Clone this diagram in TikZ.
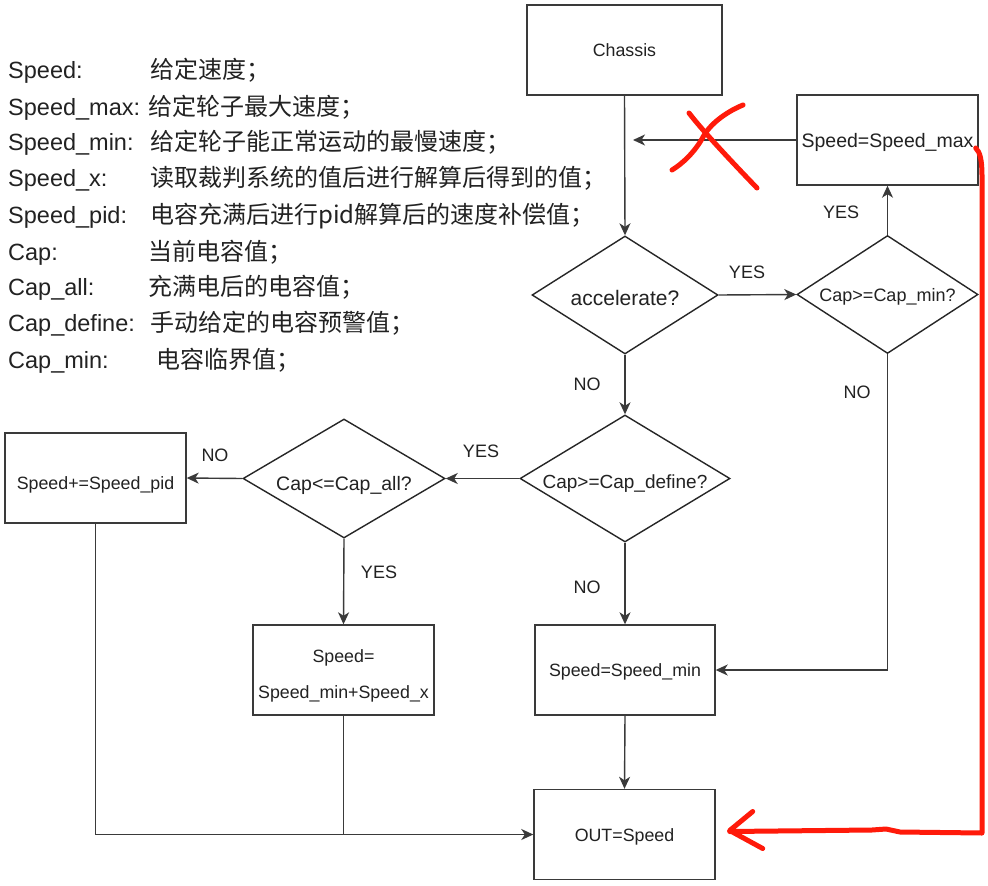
\documentclass[tikz,border=0pt]{standalone}
\usepackage{fontspec}
\setmainfont{Liberation Sans}
\newfontfamily\cjk{Noto Sans CJK SC}
\usetikzlibrary{shapes.geometric,arrows.meta,backgrounds,calc}

\definecolor{ink}{HTML}{222222}
\definecolor{linegray}{HTML}{3A3A3A}
\definecolor{legbg}{HTML}{F3F4F6}
\definecolor{pen}{HTML}{FF1A0A}

% text of a block, centred horizontally and lowered by #1 without taking up room
\newcommand{\placed}[2]{\makebox[0pt]{\raisebox{#1}[0pt][0pt]{#2}}}

\begin{document}
\begin{tikzpicture}[x=1pt,y=-1pt,
  box/.style={draw=linegray,line width=1.4pt,minimum width=181pt,minimum height=90pt,
    inner sep=0pt,text=ink,font=\fontsize{17.8}{20}\selectfont},
  decision/.style={diamond,draw=black!85,line width=1.4pt,inner sep=0pt,text=ink,
    font=\fontsize{18}{20}\selectfont},
  flow/.style={draw=linegray,line width=1.4pt,-{Stealth[length=12pt,width=11pt,inset=3.5pt]}},
  plain/.style={draw=linegray,line width=1.4pt},
  lbl/.style={text=ink,font=\fontsize{18}{20}\selectfont,inner sep=0pt},
  key/.style={anchor=base west,inner sep=0pt,text=ink,font=\fontsize{23.5}{26}\selectfont},
  meaning/.style={anchor=base west,inner sep=0pt,text=ink,font=\fontsize{24}{26}\selectfont\cjk},
  redpen/.style={draw=pen,line width=5pt,line cap=round,line join=round}
]
\useasboundingbox[fill=white] (0,0) rectangle (988,886);

% ---- legend of variables ----
\node[key] (k1) at (8,78.5) {Speed:};
\node[meaning] (m1) at (150,78.5) {给定速度；};
\node[key] (k2) at (8,115.5) {Speed\_max:};
\node[meaning] (m2) at (148,115.5) {给定轮子最大速度；};
\node[key] (k3) at (8,150.5) {Speed\_min:};
\node[meaning] (m3) at (150,150.5) {给定轮子能正常运动的最慢速度；};
\node[key] (k4) at (8,186.5) {Speed\_x:};
\node[meaning] (m4) at (150,186.5) {读取裁判系统的值后进行解算后得到的值；};
\node[key] (k5) at (8,223.5) {Speed\_pid:};
\node[meaning] (m5) at (150,223.5) {电容充满后进行pid解算后的速度补偿值；};
\node[key] (k6) at (8,260.5) {Cap:};
\node[meaning] (m6) at (148,260.5) {当前电容值；};
\node[key] (k7) at (8,295.5) {Cap\_all:};
\node[meaning] (m7) at (148,295.5) {充满电后的电容值；};
\node[key] (k8) at (8,331.5) {Cap\_define:};
\node[meaning] (m8) at (150,331.5) {手动给定的电容预警值；};
\node[key] (k9) at (8,368.5) {Cap\_min:};
\node[meaning] (m9) at (156,368.5) {电容临界值；};
\begin{pgfonlayer}{background}
  \foreach \i in {1,...,9}{
    \fill[legbg] ($(k\i.base west)+(0,-21.5)$) rectangle ($(m\i.base east)+(0,5.5)$);
  }
\end{pgfonlayer}

% ---- flowchart blocks ----
\node[box,minimum width=195pt] (chassis) at (624.5,50) {\placed{-6.4pt}{Chassis}};
\node[decision,minimum width=186pt,minimum height=118pt,font=\fontsize{21}{24}\selectfont]
  (acc) at (625,295) {\placed{-10.5pt}{accelerate?}};
\node[decision,minimum width=181pt,minimum height=118pt]
  (capmin) at (887.5,294.5) {\placed{-6.9pt}{Cap>=Cap\_min?}};
\node[box,font=\fontsize{19.5}{22}\selectfont] (smax) at (887.5,140) {\placed{-7pt}{Speed=Speed\_max}};
\node[decision,minimum width=210pt,minimum height=127pt,font=\fontsize{19}{22}\selectfont]
  (capdef) at (625,478.5) {\placed{-10.3pt}{Cap>=Cap\_define?}};
\node[decision,minimum width=202pt,minimum height=119pt,font=\fontsize{19.5}{22}\selectfont]
  (capall) at (344,478.5) {\placed{-11.5pt}{Cap<=Cap\_all?}};
\node[box] (pid) at (95.5,478) {\placed{-11.4pt}{Speed+=Speed\_pid}};
\node[box] (sx) at (343.5,670)
  {\placed{7.6pt}{Speed=}\placed{-28.4pt}{Speed\_min+Speed\_x}};
\node[box,minimum width=180pt] (smin) at (625,670) {\placed{-6.4pt}{Speed=Speed\_min}};
\node[box] (out) at (624.5,834.5) {\placed{-6.9pt}{OUT=Speed}};
\coordinate (join) at (633,140);

% ---- connectors ----
\draw[flow] (chassis.south) -- (acc.north);
\draw[flow] (acc.east) -- (capmin.west);
\draw[flow] (capmin.north) -- (smax.south);
\draw[flow] (smax.west) -- (join);
\draw[flow] (acc.south) -- (capdef.north);
\draw[flow] (capmin.south) |- (smin.east);
\draw[flow] (capdef.west) -- (capall.east);
\draw[flow] (capdef.south) -- (smin.north);
\draw[flow] (capall.west) -- (pid.east);
\draw[flow] (capall.south) -- (sx.north);
\draw[flow] (pid.south) |- (out.west);
\draw[plain] (sx.south) -- (sx.south |- out.west);
\draw[flow] (smin.south) -- (out.north);

% ---- branch labels ----
\node[lbl] (y1) at (747,272) {YES};
\node[lbl] (y2) at (841,212) {YES};
\node[lbl] (n1) at (587,384) {NO};
\node[lbl] (n2) at (857,392) {NO};
\node[lbl] (y3) at (481,451) {YES};
\node[lbl] (n3) at (587,587) {NO};
\node[lbl] (n4) at (215,455) {NO};
\node[lbl] (y4) at (379,572) {YES};

% ---- hand-drawn red corrections ----
\draw[redpen] (689,113) .. controls (702,130) and (730,160) .. (757,188);
\draw[redpen] (743,105) .. controls (726,112) and (710,124) .. (703,137)
  .. controls (695,152) and (682,164) .. (672,170);
\draw[redpen] ($(smax.east)+(-3,8)$) .. controls (980,152) and (982,160) .. (982,176)
  -- (982,833) -- (900,832) -- (886,829) -- (872,830) -- ($(out.east)+(14,-3)$);
\draw[redpen] ($(out.east)+(37,-23)$) -- ($(out.east)+(14,-4)$) -- ($(out.east)+(47,14)$);
\end{tikzpicture}
\end{document}
